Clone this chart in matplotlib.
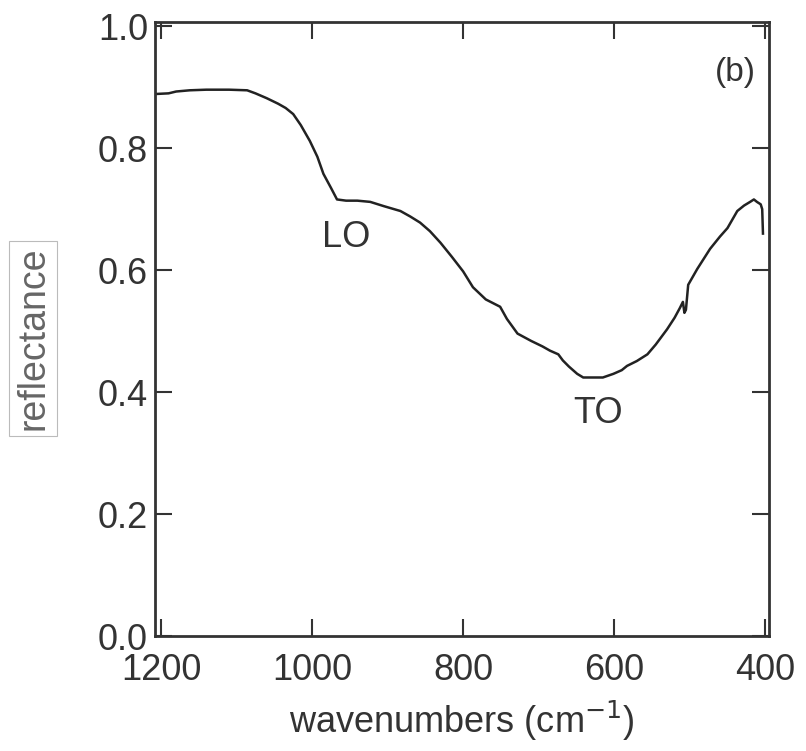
import matplotlib
matplotlib.use("Agg")
from matplotlib import pyplot as plt

plt.rcParams['font.family'] = ['Liberation Sans', 'DejaVu Sans']

# spectrum (wavenumber, reflectance)
wavenumber = [1206, 1190, 1180, 1162, 1140, 1110, 1086, 1075, 1060, 1045,
              1035, 1025, 1015, 1003, 993, 985, 975, 967, 955, 940,
              923, 905, 883, 870, 857, 844, 830, 815, 800, 787,
              770, 751, 742, 728, 710, 695, 685, 674, 668, 660,
              649, 641, 630, 615, 601, 590, 583, 570, 556, 545,
              530, 520, 513, 509, 507, 505, 502, 490, 473, 460,
              450, 437, 428, 420, 415, 411, 406, 404, 403]
reflectance = [0.889, 0.890, 0.893, 0.895, 0.896, 0.896, 0.895, 0.890, 0.882, 0.873,
               0.866, 0.856, 0.838, 0.812, 0.786, 0.758, 0.735, 0.716, 0.714, 0.714,
               0.712, 0.705, 0.697, 0.688, 0.678, 0.664, 0.645, 0.622, 0.598, 0.572,
               0.552, 0.540, 0.520, 0.496, 0.484, 0.475, 0.468, 0.462, 0.452, 0.442,
               0.430, 0.424, 0.424, 0.424, 0.430, 0.436, 0.443, 0.451, 0.462, 0.478,
               0.503, 0.522, 0.538, 0.548, 0.530, 0.535, 0.576, 0.602, 0.635, 0.655,
               0.669, 0.697, 0.706, 0.712, 0.716, 0.712, 0.708, 0.700, 0.660]

x_ticks = [1200, 1000, 800, 600, 400]
y_ticks = [0.0, 0.2, 0.4, 0.6, 0.8, 1.0]

ink = '#333333'

fig = plt.figure(figsize=(8.06, 7.51), dpi=100)
ax = fig.add_axes([0.1923, 0.1531, 0.7618, 0.8176])

ax.plot(wavenumber, reflectance, color='#222222', lw=1.8)

ax.set_xlim(1208, 395)
ax.set_ylim(0.0, 1.007)
ax.set_xticks(x_ticks)
ax.set_xticklabels([str(v) for v in x_ticks])
ax.set_yticks(y_ticks)
ax.set_yticklabels(['%.1f' % v for v in y_ticks])

ax.tick_params(direction='in', length=12, width=1.5, color=ink,
               top=True, right=True, labelsize=26, labelcolor=ink)
ax.tick_params(axis='x', pad=12)
ax.tick_params(axis='y', pad=5)
for sp in ax.spines.values():
    sp.set_linewidth(2.0)
    sp.set_color(ink)

ax.set_xlabel('wavenumbers (cm$^{-1}$)', fontsize=26, color=ink, labelpad=8)
fig.text(0.041, 0.549, 'reflectance', rotation=90, fontsize=27, color='#666666',
         ha='center', va='center',
         bbox=dict(boxstyle='square,pad=0.15', fc='white', ec='#bbbbbb', lw=0.8))

ax.text(955, 0.653, 'LO', fontsize=26, color=ink, ha='center', va='center')
ax.text(622, 0.365, 'TO', fontsize=26, color=ink, ha='center', va='center')
ax.text(0.945, 0.918, '(b)', transform=ax.transAxes, fontsize=24, color=ink,
        ha='center', va='center')

fig.savefig('out.png', dpi=100)
